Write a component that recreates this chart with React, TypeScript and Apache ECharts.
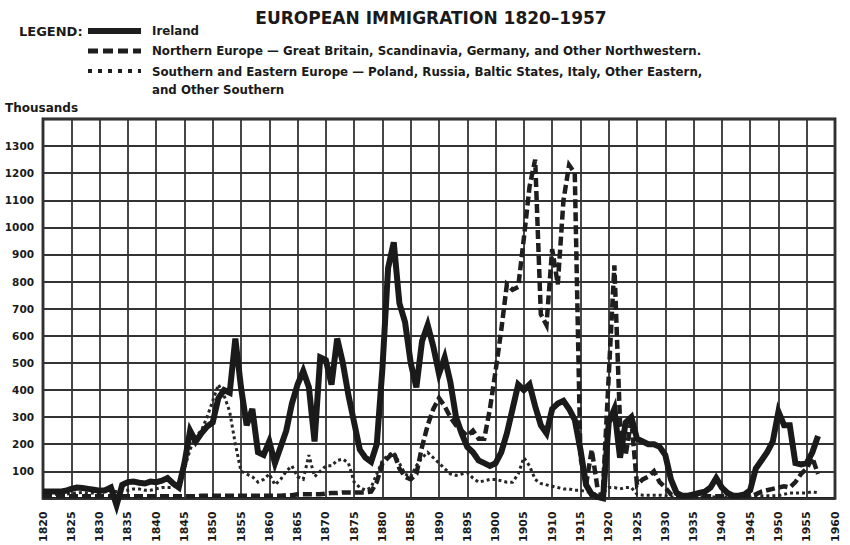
import React, { useEffect, useRef } from "react";
import * as echarts from "echarts";

const START_YEAR = 1820;

const TITLE = "EUROPEAN IMMIGRATION 1820–1957";
const LEGEND_LABEL = "LEGEND:";
const SERIES_NAMES = [
  "Ireland",
  "Northern Europe — Great Britain, Scandinavia, Germany, and Other Northwestern.",
  "Southern and Eastern Europe — Poland, Russia, Baltic States, Italy, Other Eastern,",
];
const SERIES_NAME_CONT = "and Other Southern";
const Y_UNIT = "Thousands";

// 1820 .. 1957 (thousands)
const irelandValues = [
  25, 25, 25, 25, 28, 35, 40, 38, 35, 32,
  28, 30, 40, -25, 50, 60, 62, 58, 55, 62,
  60, 65, 75, 55, 40, 130, 250, 210, 240, 265,
  280, 370, 400, 390, 590, 410, 270, 330, 170, 160,
  210, 130, 190, 250, 350, 420, 470, 410, 210, 520,
  510, 420, 590, 500, 380, 280, 180, 150, 135, 200,
  480, 850, 945, 720, 650, 500, 410, 580, 640, 560,
  460, 520, 430, 300, 240, 190, 170, 140, 130, 120,
  130, 170, 240, 330, 420, 400, 420, 340, 270, 240,
  330, 350, 360, 330, 290, 180, 50, 15, 5, 0,
  280, 330, 150, 280, 300, 220, 210, 200, 200, 190,
  160, 70, 20, 10, 10, 15, 20, 25, 40, 75,
  40, 20, 10, 10, 15, 30, 110, 140, 170, 210,
  320, 270, 270, 130, 125, 130, 170, 230,
];

const northernValues = [
  8, 8, 8, 8, 8, 8, 8, 8, 8, 8,
  8, 8, 8, 8, 8, 8, 8, 8, 8, 8,
  8, 8, 8, 8, 8, 8, 8, 8, 10, 10,
  10, 10, 10, 10, 10, 10, 10, 10, 10, 10,
  10, 10, 10, 12, 12, 15, 15, 15, 15, 15,
  18, 20, 20, 22, 22, 22, 22, 22, 25, 60,
  130, 150, 170, 110, 80, 70, 90, 190, 270, 330,
  370, 340, 300, 270, 250, 230, 250, 220, 220, 330,
  470, 620, 790, 770, 780, 960, 1150, 1250, 680, 640,
  920, 790, 1100, 1230, 1200, 150, 50, 180, 40, 40,
  450, 860, 280, 160, 290, 50, 70, 80, 100, 60,
  40, 15, 8, 8, 8, 8, 8, 8, 8, 8,
  8, 8, 8, 8, 8, 8, 15, 25, 30, 35,
  40, 45, 40, 60, 90, 110, 150, 90,
];

const southernValues = [
  15, 15, 15, 15, 15, 18, 20, 22, 20, 20,
  20, 25, 30, 25, 30, 30, 35, 35, 30, 30,
  35, 40, 40, 40, 60, 110, 180, 230, 250, 300,
  360, 420, 380, 320, 200, 100, 90, 80, 60, 70,
  90, 50, 70, 100, 120, 80, 70, 160, 80, 100,
  120, 120, 140, 145, 130, 60, 40, 30, 40, 90,
  140, 160, 170, 130, 90, 80, 120, 150, 170, 150,
  130, 110, 90, 85, 90, 95, 75, 60, 65, 70,
  70, 65, 60, 60, 90, 150, 120, 70, 55, 50,
  45, 40, 35, 35, 30, 30, 25, 20, 15, 20,
  40, 40, 35, 40, 40, 15, 12, 12, 12, 12,
  10, 5, 5, 5, 5, 5, 5, 5, 5, 5,
  5, 5, 5, 5, 5, 5, 10, 10, 10, 10,
  10, 15, 20, 20, 20, 20, 25, 20,
];

const X_MIN = 1820;
const X_MAX = 1960;
const X_STEP = 5;
const Y_MIN = 0;
const Y_MAX = 1400;
const Y_STEP = 100;

const toPairs = (vals: number[]) => vals.map((v, i) => [START_YEAR + i, v]);

const FONT = "DejaVu Sans";
const INK = "#1a1a1a";

export default function App() {
  const ref = useRef<HTMLDivElement>(null);

  useEffect(() => {
    if (!ref.current) return;
    const chart = echarts.init(ref.current, undefined, { renderer: "svg" });
    const textStyle = (size: number) => ({
      fill: INK,
      font: `bold ${size}px "${FONT}"`,
      verticalAlign: "middle" as const,
    });
    chart.setOption({
      animation: false,
      backgroundColor: "#ffffff",
      grid: {
        left: 43,
        right: 15,
        top: 119,
        bottom: 46,
        show: true,
        borderColor: "#1e1e1e",
        borderWidth: 2.8,
        containLabel: false,
      },
      xAxis: {
        type: "value",
        min: X_MIN,
        max: X_MAX,
        interval: X_STEP,
        axisLine: { show: false },
        axisTick: { show: false },
        splitLine: { show: true, lineStyle: { color: "#333", width: 1.8 } },
        axisLabel: {
          rotate: 90,
          margin: 13,
          color: INK,
          fontFamily: FONT,
          fontWeight: "bold",
          fontSize: 11,
          formatter: (v: number) => String(v),
        },
      },
      yAxis: {
        type: "value",
        min: Y_MIN,
        max: Y_MAX,
        interval: Y_STEP,
        axisLine: { show: false },
        axisTick: { show: false },
        splitLine: { show: true, lineStyle: { color: "#333", width: 1.8 } },
        axisLabel: {
          margin: 9,
          color: INK,
          fontFamily: FONT,
          fontWeight: "bold",
          fontSize: 10.5,
          formatter: (v: number) => (v === Y_MIN || v === Y_MAX ? "" : String(v)),
        },
      },
      series: [
        {
          name: SERIES_NAMES[2],
          type: "line",
          data: toPairs(southernValues),
          symbol: "none",
          clip: false,
          z: 3,
          lineStyle: { color: "#262626", width: 3, type: [3, 3], join: "miter" },
        },
        {
          name: SERIES_NAMES[1],
          type: "line",
          data: toPairs(northernValues),
          symbol: "none",
          clip: false,
          z: 4,
          lineStyle: { color: "#1e1e1e", width: 4.5, type: [9, 4], join: "miter" },
        },
        {
          name: SERIES_NAMES[0],
          type: "line",
          data: toPairs(irelandValues),
          symbol: "none",
          clip: false,
          z: 5,
          lineStyle: { color: "#1a1a1a", width: 6, join: "miter", miterLimit: 4 },
        },
      ],
      graphic: [
        {
          type: "text",
          x: 431,
          y: 18,
          style: {
            text: TITLE,
            fill: INK,
            font: `bold 17px "${FONT}"`,
            align: "center",
            verticalAlign: "middle",
          },
        },
        { type: "text", x: 19, y: 31, style: { text: LEGEND_LABEL, ...textStyle(13) } },
        { type: "rect", shape: { x: 88, y: 28, width: 53, height: 6 }, style: { fill: "#1e1e1e" } },
        { type: "text", x: 152, y: 31, style: { text: SERIES_NAMES[0], ...textStyle(11.8) } },
        {
          type: "line",
          shape: { x1: 88, y1: 51, x2: 141, y2: 51 },
          style: { stroke: "#1e1e1e", lineWidth: 5, lineDash: [10, 5] },
        },
        { type: "text", x: 152, y: 51, style: { text: SERIES_NAMES[1], ...textStyle(11.8) } },
        {
          type: "line",
          shape: { x1: 88, y1: 71, x2: 141, y2: 71 },
          style: { stroke: "#1e1e1e", lineWidth: 4, lineDash: [4, 6] },
        },
        { type: "text", x: 152, y: 72, style: { text: SERIES_NAMES[2], ...textStyle(11.8) } },
        { type: "text", x: 152, y: 90, style: { text: SERIES_NAME_CONT, ...textStyle(11.8) } },
        { type: "text", x: 5, y: 108, style: { text: Y_UNIT, ...textStyle(12) } },
      ],
    });
    return () => chart.dispose();
  }, []);

  return (
    <div
      ref={ref}
      style={{ position: "absolute", left: 0, top: 0, width: 850, height: 545 }}
    />
  );
}
